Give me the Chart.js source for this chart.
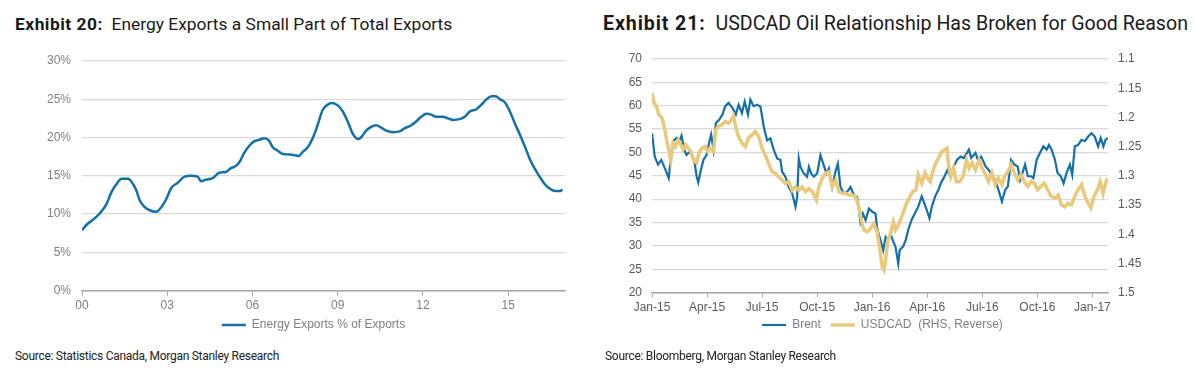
<!DOCTYPE html>
<html><head><meta charset="utf-8">
<script src="https://cdn.jsdelivr.net/npm/chart.js@4"></script>
<style>
body{margin:0;background:#fff;width:1195px;height:382px;position:relative;overflow:hidden;font-family:Roboto,sans-serif}
.title{position:absolute;color:#1a1a1a;white-space:nowrap}
.title b{font-weight:700}
.src{position:absolute;top:349px;font-size:12px;color:#222;letter-spacing:-0.28px;white-space:nowrap}
canvas{position:absolute}
</style></head><body>
<div class="title" style="left:15px;top:14px;font-size:17.4px"><b style="letter-spacing:0.5px">Exhibit 20:</b>&nbsp; Energy Exports a Small Part of Total Exports</div>
<div class="title" style="left:603px;top:12px;font-size:19.6px"><b style="letter-spacing:0.9px">Exhibit 21:</b>&nbsp; USDCAD Oil Relationship Has Broken for Good Reason</div>
<canvas id="c1" width="595" height="308" style="left:0;top:40px"></canvas>
<canvas id="c2" width="600" height="310" style="left:595px;top:40px"></canvas>
<div class="src" style="left:15px">Source: Statistics Canada, Morgan Stanley Research</div>
<div class="src" style="left:605px">Source: Bloomberg, Morgan Stanley Research</div>
<script>
// ---- Exhibit 20 data (years since 2000, % of exports) ----
const exportYears = [0,0.19,0.40,0.63,0.86,1.04,1.21,1.39,1.62,1.80,1.91,2.03,2.21,2.38,2.61,2.79,2.96,3.14,3.37,3.61,3.84,4.07,4.19,4.36,4.60,4.83,5.06,5.24,5.42,5.56,5.71,5.88,6.06,6.23,6.41,6.58,6.72,6.88,7.03,7.23,7.46,7.63,7.76,7.94,8.12,8.29,8.47,8.65,8.80,9.00,9.18,9.35,9.53,9.71,9.82,10.00,10.18,10.35,10.53,10.71,10.94,11.18,11.35,11.59,11.76,11.94,12.12,12.29,12.47,12.71,12.88,13.06,13.29,13.47,13.65,13.88,14.06,14.24,14.41,14.56,14.71,14.88,15.06,15.24,15.41,15.59,15.76,15.94,16.12,16.29,16.47,16.65,16.82,16.91];
const energySharePct = [7.9,8.7,9.3,10.1,11.3,12.9,13.9,14.6,14.6,13.9,13.1,11.8,10.9,10.5,10.3,10.9,11.9,13.4,14.1,14.9,15.0,14.9,14.3,14.5,14.7,15.4,15.5,16.0,16.3,16.9,18.0,18.9,19.5,19.7,19.9,19.6,18.7,18.3,17.9,17.8,17.7,17.6,18.1,18.7,19.9,21.6,23.6,24.3,24.5,24.2,23.4,22.1,20.5,19.8,20.0,20.9,21.4,21.6,21.3,20.9,20.7,20.8,21.2,21.6,22.1,22.7,23.1,23.0,22.7,22.7,22.5,22.3,22.4,22.7,23.4,23.7,24.3,25.0,25.4,25.4,25.0,24.6,23.4,21.8,20.4,18.8,17.2,15.9,14.8,13.9,13.3,13.0,13.0,13.2];
const exportTickYears = [0,3,6,9,12,15];
const exportTickLabels = ['00','03','06','09','12','15'];
const exportPctTicks = [0,5,10,15,20,25,30];

// ---- Exhibit 21 data (months since Jan-2015) ----
const brentMonths = [0,0.15,0.33,0.51,0.70,0.91,1.02,1.15,1.34,1.52,1.61,1.76,1.88,2.07,2.30,2.43,2.52,2.67,2.80,2.98,3.11,3.22,3.35,3.48,3.66,3.84,3.99,4.17,4.39,4.57,4.72,4.90,5.05,5.23,5.36,5.54,5.73,5.91,6.09,6.27,6.45,6.64,6.82,7.00,7.09,7.27,7.45,7.64,7.82,7.91,8.00,8.09,8.27,8.45,8.55,8.67,8.82,9.00,9.18,9.33,9.51,9.64,9.82,10.00,10.13,10.27,10.45,10.64,10.82,11.00,11.18,11.36,11.49,11.64,11.82,12.00,12.18,12.27,12.45,12.60,12.73,12.85,13.00,13.15,13.27,13.42,13.50,13.69,13.83,13.96,14.15,14.33,14.51,14.70,14.84,14.97,15.12,15.25,15.43,15.61,15.74,15.89,16.11,16.26,16.44,16.62,16.81,16.99,17.27,17.39,17.63,17.76,17.94,18.18,18.34,18.52,18.70,18.88,19.07,19.25,19.39,19.57,19.75,19.93,20.06,20.19,20.33,20.48,20.66,20.78,20.87,20.96,21.14,21.33,21.51,21.63,21.78,21.96,22.10,22.28,22.43,22.59,22.77,22.90,23.04,23.22,23.41,23.59,23.77,23.95,24.13,24.31,24.45,24.60,24.71,24.85];
const brentPrice = [54.1,49.1,47.4,48.4,46.6,44.5,48.4,52.4,53.1,52.7,53.6,50.6,49.5,50.2,48.4,44.9,43.6,46.3,48.4,49.5,52.0,53.8,50.6,56.3,57.0,58.1,59.9,60.6,59.5,58.1,60.2,58.4,60.9,58.1,61.3,59.9,60.2,59.8,55.5,52.6,53.0,50.5,48.7,48.4,45.9,44.8,42.6,41.2,38.4,40.5,48.7,46.9,45.5,44.8,46.9,45.5,44.8,45.5,49.4,47.6,45.5,46.6,42.6,45.9,47.6,42.6,41.2,41.6,42.6,40.9,40.5,35.1,36.9,35.5,38.0,37.3,36.9,33.7,31.2,29.1,31.9,31.2,32.6,30.9,29.8,26.2,29.1,29.9,31.3,33.4,35.6,37.0,38.4,40.6,39.1,37.7,35.9,38.4,40.6,42.0,43.4,44.5,46.3,44.9,47.0,48.4,49.1,48.8,50.6,48.8,49.9,48.4,49.1,47.0,46.3,45.2,44.1,42.0,39.5,42.0,42.7,48.4,47.4,47.0,44.1,45.6,47.4,44.9,44.9,44.5,46.3,48.4,49.9,51.3,50.6,51.6,50.6,48.4,45.6,44.9,43.4,45.6,47.4,45.2,51.3,51.6,52.7,52.4,53.4,54.1,53.4,51.3,53.1,51.3,52.7,53.1];
const usdcadMonths = [0,0.11,0.24,0.37,0.55,0.70,0.79,0.91,1.02,1.15,1.28,1.43,1.57,1.70,1.83,1.98,2.12,2.25,2.43,2.56,2.71,2.89,3.04,3.16,3.35,3.48,3.62,3.80,3.99,4.17,4.32,4.44,4.57,4.72,4.90,5.09,5.27,5.45,5.63,5.82,6.00,6.18,6.36,6.55,6.73,6.91,7.09,7.27,7.45,7.64,7.82,8.00,8.18,8.36,8.55,8.73,8.96,9.09,9.27,9.45,9.64,9.82,10.00,10.18,10.36,10.55,10.73,10.91,11.09,11.27,11.45,11.55,11.73,11.91,12.09,12.27,12.42,12.55,12.64,12.73,12.85,13.00,13.15,13.27,13.42,13.65,13.83,14.02,14.20,14.39,14.51,14.70,14.88,15.01,15.16,15.30,15.43,15.61,15.80,15.98,16.07,16.17,16.29,16.44,16.59,16.77,16.95,17.14,17.28,17.45,17.63,17.82,18.00,18.18,18.34,18.52,18.70,18.88,19.07,19.22,19.39,19.57,19.75,19.93,20.11,20.29,20.48,20.66,20.84,21.02,21.20,21.38,21.56,21.74,21.96,22.14,22.32,22.50,22.68,22.86,23.04,23.22,23.41,23.59,23.77,23.91,24.09,24.27,24.42,24.58,24.71,24.85];
const usdcadRate = [1.158,1.175,1.181,1.195,1.201,1.221,1.238,1.255,1.273,1.244,1.250,1.238,1.247,1.255,1.247,1.253,1.258,1.273,1.278,1.261,1.253,1.250,1.258,1.253,1.258,1.221,1.215,1.213,1.207,1.210,1.204,1.198,1.218,1.233,1.244,1.250,1.235,1.230,1.224,1.233,1.253,1.265,1.279,1.293,1.296,1.302,1.307,1.313,1.310,1.325,1.319,1.325,1.319,1.327,1.322,1.327,1.342,1.319,1.305,1.296,1.293,1.319,1.307,1.327,1.330,1.330,1.333,1.333,1.336,1.353,1.382,1.393,1.396,1.390,1.382,1.396,1.427,1.456,1.461,1.445,1.410,1.399,1.379,1.393,1.385,1.367,1.350,1.338,1.327,1.324,1.298,1.313,1.295,1.304,1.310,1.293,1.281,1.270,1.258,1.255,1.253,1.284,1.301,1.287,1.310,1.310,1.301,1.273,1.287,1.278,1.290,1.273,1.287,1.298,1.310,1.295,1.315,1.304,1.315,1.301,1.293,1.281,1.295,1.307,1.298,1.310,1.318,1.310,1.313,1.324,1.318,1.313,1.324,1.335,1.338,1.333,1.350,1.353,1.347,1.350,1.335,1.324,1.315,1.335,1.347,1.355,1.335,1.324,1.310,1.330,1.313,1.304];
const fxTickMonths = [0,3,6,9,12,15,18,21,24];
const fxTickLabels = ['Jan-15','Apr-15','Jul-15','Oct-15','Jan-16','Apr-16','Jul-16','Oct-16','Jan-17'];
const brentTicks = [20,25,30,35,40,45,50,55,60,65,70];
const usdcadTicks = [1.1,1.15,1.2,1.25,1.3,1.35,1.4,1.45,1.5];

const BLUE = '#1470a8', GOLD = '#e9c97b';
const AXIS = '#a6a6a6', GRID = '#d9d9d9';
const tickFont = {family:'"Liberation Sans", Arial, sans-serif', size:12};
const xy = (xs, ys) => xs.map((x,i)=>({x, y: ys[i]}));
const legendLabels = {usePointStyle:true, pointStyle:'line', pointStyleWidth:24, color:'#7f7f7f', font:tickFont, padding:10, sort:(a,b)=>a.datasetIndex-b.datasetIndex};

// shifts the legend block after layout (position only)
const legendShift = {
  id:'legendShift',
  afterLayout(chart, args, opts){
    const lg = chart.legend; if(!lg) return;
    const dx = opts.dx||0, dy = opts.dy||0;
    lg.left += dx; lg.right += dx; lg.top += dy; lg.bottom += dy;
  }
};

new Chart(document.getElementById('c1'), {
  type:'line',
  plugins:[legendShift],
  data:{datasets:[{label:'Energy Exports % of Exports', data:xy(exportYears, energySharePct), borderColor:BLUE, backgroundColor:BLUE, borderWidth:2.5, pointRadius:0, tension:0.4, cubicInterpolationMode:'monotone'}]},
  options:{
    responsive:false, animation:false,
    layout:{padding:{top:21, right:30, left:0, bottom:0}},
    plugins:{legend:{position:'bottom', labels:legendLabels}, legendShift:{dx:31, dy:-7}, tooltip:{enabled:false}},
    scales:{
      x:{type:'linear', min:0, max:17,
         afterBuildTicks:s=>{s.ticks = exportTickYears.map(v=>({value:v}));},
         ticks:{callback:(v,i)=>exportTickLabels[i], color:'#7f7f7f', font:tickFont, padding:3, maxRotation:0, autoSkip:false},
         grid:{drawOnChartArea:false, drawTicks:true, tickLength:5, color:AXIS},
         border:{display:true, color:AXIS, width:1.5}},
      y:{min:0, max:30,
         afterBuildTicks:s=>{s.ticks = exportPctTicks.map(v=>({value:v}));},
         afterFit:s=>{s.width = 82;},
         ticks:{callback:v=>v+'%', color:'#7f7f7f', font:tickFont, padding:11},
         grid:{color:GRID, drawTicks:false, lineWidth:1.2},
         border:{display:false}}
    }
  }
});

new Chart(document.getElementById('c2'), {
  type:'line',
  plugins:[legendShift],
  data:{datasets:[
    {label:'Brent', data:xy(brentMonths, brentPrice), yAxisID:'y', borderColor:BLUE, backgroundColor:BLUE, borderWidth:2.2, pointRadius:0, tension:0, order:1},
    {label:'USDCAD  (RHS, Reverse)', data:xy(usdcadMonths, usdcadRate), yAxisID:'y2', borderColor:GOLD, backgroundColor:GOLD, borderWidth:3.5, pointRadius:0, tension:0, order:0}
  ]},
  options:{
    responsive:false, animation:false,
    layout:{padding:{top:19, right:37, left:0, bottom:0}},
    plugins:{legend:{position:'bottom', labels:legendLabels}, legendShift:{dx:6, dy:-9}, tooltip:{enabled:false}},
    scales:{
      x:{type:'linear', min:0, max:24.85,
         afterBuildTicks:s=>{s.ticks = fxTickMonths.map(v=>({value:v}));},
         ticks:{callback:(v,i)=>fxTickLabels[i], color:'#595959', font:tickFont, padding:3, maxRotation:0, autoSkip:false},
         grid:{drawOnChartArea:false, drawTicks:true, tickLength:5, color:AXIS},
         border:{display:true, color:AXIS, width:1.5}},
      y:{position:'left', min:20, max:70,
         afterBuildTicks:s=>{s.ticks = brentTicks.map(v=>({value:v}));},
         afterFit:s=>{s.width = 57;},
         ticks:{color:'#595959', font:tickFont, padding:10},
         grid:{color:GRID, drawTicks:false, lineWidth:1.2},
         border:{display:false}},
      y2:{position:'right', reverse:true, min:1.1, max:1.5,
         afterBuildTicks:s=>{s.ticks = usdcadTicks.map(v=>({value:v}));},
         afterFit:s=>{s.width = 50;},
         ticks:{callback:v=>String(Math.round(v*100)/100), color:'#595959', font:tickFont, padding:10},
         grid:{drawOnChartArea:false, drawTicks:false},
         border:{display:false}}
    }
  }
});
</script>
</body></html>
